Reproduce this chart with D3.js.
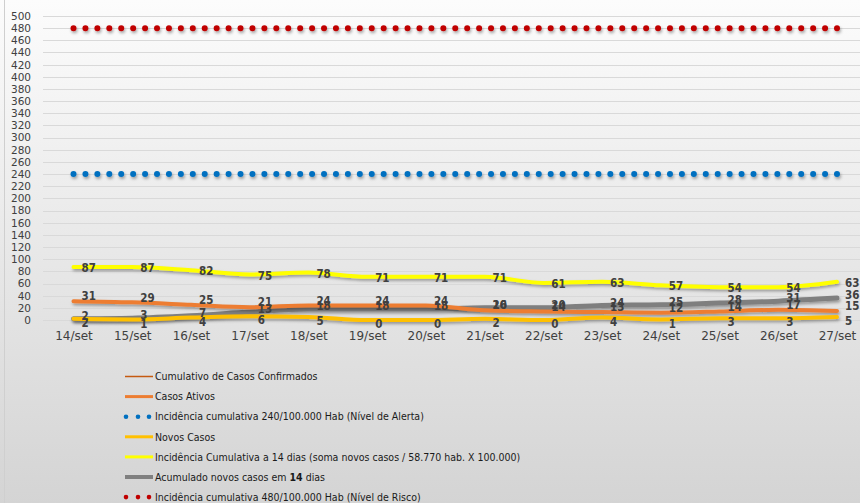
<!DOCTYPE html>
<html>
<head>
<meta charset="utf-8">
<script src="https://cdn.jsdelivr.net/npm/d3@7"></script>
<style>
	html, body { margin: 0; padding: 0; }
	body { width: 860px; height: 503px; overflow: hidden; }
	svg { display: block; }
</style>
</head>
<body>
<svg id="chart" width="860" height="503"></svg>
<script>
(function(){

var days = ["14/set", "15/set", "16/set", "17/set", "18/set", "19/set", "20/set",
	"21/set", "22/set", "23/set", "24/set", "25/set", "26/set", "27/set"];

var casosAtivos = [31, 29, 25, 21, 24, 24, 24, 16, 14, 13, 12, 14, 17, 15];
var novosCasos = [2, 1, 4, 6, 5, 0, 0, 2, 0, 4, 1, 3, 3, 5];
var incidencia14 = [87, 87, 82, 75, 78, 71, 71, 71, 61, 63, 57, 54, 54, 63];
var acumulado14 = [2, 3, 7, 13, 18, 18, 18, 20, 20, 24, 25, 28, 31, 36];
var nivelAlerta = 240;
var nivelRisco = 480;

var yTicks = d3.range(0, 501, 20);

var legendLabels = [
	"Cumulativo de Casos Confirmados",
	"Casos Ativos",
	"Incidência cumulativa 240/100.000 Hab (Nível de Alerta)",
	"Novos Casos",
	"Incidência Cumulativa a 14 dias (soma novos casos / 58.770 hab. X 100.000)",
	"Acumulado novos casos em 14 dias",
	"Incidência cumulativa 480/100.000 Hab (Nível de Risco)"
];

var FONT = "'DejaVu Sans', sans-serif";
var FONT_NARROW = "'DejaVu Sans Condensed', 'DejaVu Sans', sans-serif";
var TEXT_COLOR = "#404040";

var svg = d3.select("#chart");
var W = 860, H = 503;

// background gradient + shadow filter
var defs = svg.append("defs");
var grad = defs.append("linearGradient").attr("id", "bg")
	.attr("x1", 0).attr("y1", 0).attr("x2", 0).attr("y2", 1);
grad.append("stop").attr("offset", "0%").attr("stop-color", "#fcfcfc");
grad.append("stop").attr("offset", "100%").attr("stop-color", "#d4d4d4");

// userSpaceOnUse so flat horizontal lines keep their shadow
var shadow = defs.append("filter").attr("id", "shadow")
	.attr("filterUnits", "userSpaceOnUse")
	.attr("x", 0).attr("y", 0).attr("width", W).attr("height", H);
shadow.append("feDropShadow")
	.attr("dx", 1).attr("dy", 2).attr("stdDeviation", 1.5)
	.attr("flood-color", "#000").attr("flood-opacity", 0.35);

svg.append("rect").attr("width", W).attr("height", H).attr("fill", "url(#bg)");
svg.append("line").attr("x1", 4.5).attr("x2", 4.5).attr("y1", 0).attr("y2", H)
	.attr("stroke", "#cfcfcf").attr("stroke-width", 1);

var x = d3.scalePoint().domain(days).range([73.5, 837]);
var y = d3.scaleLinear().domain([0, 500]).range([320, 16]);

// gridlines
svg.append("g").selectAll("line").data(yTicks).enter().append("line")
	.attr("x1", 43).attr("x2", W)
	.attr("y1", function(d) { return Math.round(y(d)) + 0.5; })
	.attr("y2", function(d) { return Math.round(y(d)) + 0.5; })
	.attr("stroke", "#d9d9d9").attr("stroke-width", 1);

// y axis labels
var yAxis = svg.append("g").attr("transform", "translate(31,0)")
	.call(d3.axisLeft(y).tickValues(yTicks).tickSize(0).tickPadding(0));
yAxis.select(".domain").remove();
yAxis.selectAll("text")
	.attr("fill", TEXT_COLOR).style("font-family", FONT).style("font-size", "10.5px");

// x axis labels
var xAxis = svg.append("g").attr("transform", "translate(0,331)")
	.call(d3.axisBottom(x).tickSize(0).tickPadding(0));
xAxis.select(".domain").remove();
xAxis.selectAll("text")
	.attr("fill", TEXT_COLOR).style("font-family", FONT).style("font-size", "12px");

// threshold dotted lines
var dotStep = (x.range()[1] - x.range()[0]) / 64;
function drawDots(value, color) {
	svg.append("line")
		.attr("x1", x.range()[0]).attr("x2", x.range()[1] + 0.1)
		.attr("y1", y(value)).attr("y2", y(value))
		.attr("stroke", color).attr("stroke-width", 6)
		.attr("stroke-linecap", "round")
		.attr("stroke-dasharray", "0 " + dotStep)
		.attr("filter", "url(#shadow)");
}
drawDots(nivelAlerta, "#0070c0");
drawDots(nivelRisco, "#c00000");

var line = d3.line()
	.x(function(d, i) { return x(days[i]); })
	.y(function(d) { return y(d); })
	.curve(d3.curveMonotoneX);

var series = [
	{ values: acumulado14, color: "#7f7f7f", width: 5, dy: -3 },
	{ values: casosAtivos, color: "#ed7d31", width: 4, dy: -5 },
	{ values: novosCasos, color: "#ffc000", width: 4, dy: 4 },
	{ values: incidencia14, color: "#ffff00", width: 4, dy: 1 }
];

series.forEach(function(s) {
	svg.append("path").datum(s.values)
		.attr("d", line)
		.attr("fill", "none")
		.attr("stroke", s.color)
		.attr("stroke-width", s.width)
		.attr("stroke-linecap", "round")
		.attr("filter", "url(#shadow)");
});

// data labels, to the right of each point
series.forEach(function(s) {
	svg.append("g").selectAll("text").data(s.values).enter().append("text")
		.attr("x", function(d, i) { return x(days[i]) + 8; })
		.attr("y", function(d) { return y(d) + s.dy; })
		.attr("dy", "0.36em")
		.attr("fill", TEXT_COLOR)
		.style("font-family", FONT_NARROW)
		.style("font-size", "11.5px")
		.style("font-weight", "bold")
		.text(function(d) { return d; });
});

// legend
var legendItems = [
	{ type: "line", color: "#c55a11", width: 1.5 },
	{ type: "line", color: "#ed7d31", width: 3 },
	{ type: "dots", color: "#0070c0" },
	{ type: "line", color: "#ffc000", width: 3 },
	{ type: "line", color: "#ffff00", width: 3 },
	{ type: "line", color: "#808080", width: 4 },
	{ type: "dots", color: "#c00000" }
];

var legend = svg.append("g");
legendItems.forEach(function(item, i) {
	var ly = 376.5 + i * 20.1;
	if(item.type === "line") {
		legend.append("line")
			.attr("x1", 125).attr("x2", 153).attr("y1", ly).attr("y2", ly)
			.attr("stroke", item.color).attr("stroke-width", item.width);
	} else {
		legend.selectAll(null).data([126, 138, 149]).enter().append("circle")
			.attr("cx", function(d) { return d; }).attr("cy", ly).attr("r", 2.3)
			.attr("fill", item.color);
	}
	var t = legend.append("text")
		.attr("x", 155).attr("y", ly).attr("dy", "0.36em")
		.attr("fill", "#1a1a1a")
		.style("font-family", FONT_NARROW).style("font-size", "10.5px");
	if(i === 5) {
		t.append("tspan").text("Acumulado novos casos em ");
		t.append("tspan").style("font-weight", "bold").text("14");
		t.append("tspan").text(" dias");
	} else {
		t.text(legendLabels[i]);
	}
});

})();
</script>
</body>
</html>
